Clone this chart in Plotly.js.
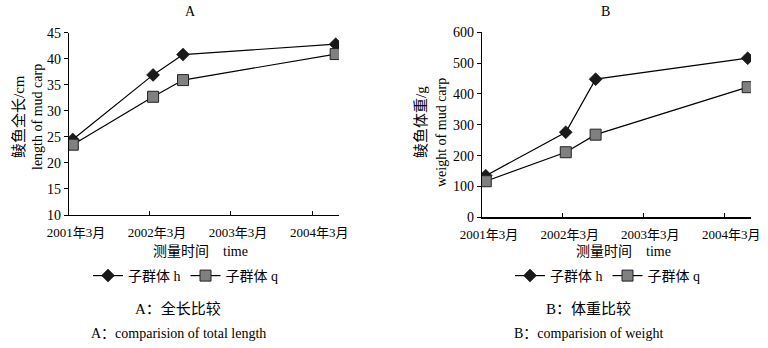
<!DOCTYPE html>
<html>
<head>
<meta charset="utf-8">
<script src="https://cdn.plot.ly/plotly-3.0.1.min.js"></script>
<style>html,body{margin:0;padding:0;background:#fff;}#chart{width:768px;height:348px;}</style>
</head>
<body>
<div id="chart"></div>
<script>
// Data
const dates = ['2001-03-18', '2002-03-15', '2002-07-28', '2004-06-15'];
const tickDates = ['2001-03-01', '2002-03-01', '2003-03-01', '2004-03-01'];
const tickLabels = ['2001年3月', '2002年3月', '2003年3月', '2004年3月'];
const lengthH = [24.5, 36.9, 40.8, 42.8];
const lengthQ = [23.5, 32.7, 35.9, 40.9];
const weightH = [135, 276, 448, 516];
const weightQ = [117, 211, 268, 422];
const seriesNames = ['子群体 h', '子群体 q'];

const W = 768, H = 348;
const px = v => v / W;
const py = v => 1 - v / H;
const FONT = '"Liberation Serif", "Times New Roman", "Noto Sans CJK SC", serif';

const hStyle = {color: '#000', width: 1.2};
const hMarker = {symbol: 'diamond', size: 10, color: '#1a1a1a', line: {color: '#000', width: 0.5}};
const qMarker = {symbol: 'square', size: 11, color: '#808080', line: {color: '#222', width: 1}};

const traces = [
  {x: dates, y: lengthH, name: seriesNames[0], mode: 'lines+markers', line: hStyle, marker: hMarker, xaxis: 'x', yaxis: 'y', legend: 'legend'},
  {x: dates, y: lengthQ, name: seriesNames[1], mode: 'lines+markers', line: hStyle, marker: qMarker, xaxis: 'x', yaxis: 'y', legend: 'legend'},
  {x: dates, y: weightH, name: seriesNames[0], mode: 'lines+markers', line: hStyle, marker: hMarker, xaxis: 'x2', yaxis: 'y2', legend: 'legend2'},
  {x: dates, y: weightQ, name: seriesNames[1], mode: 'lines+markers', line: hStyle, marker: qMarker, xaxis: 'x2', yaxis: 'y2', legend: 'legend2'}
];

const xCommon = {
  type: 'date', range: ['2001-03-01', '2004-06-30'],
  tickmode: 'array', tickvals: tickDates, ticktext: tickLabels,
  ticks: 'inside', ticklen: 4, tickcolor: '#000', tickwidth: 1,
  showline: true, linecolor: '#000', linewidth: 1.2,
  showgrid: false, zeroline: false, ticklabelshift: 7, ticklabelstandoff: 5,
  tickfont: {family: FONT, size: 13, color: '#000'}
};
const yCommon = {
  ticks: 'outside', ticklen: 4, tickcolor: '#000', tickwidth: 1,
  showline: true, linecolor: '#000', linewidth: 1.2,
  showgrid: false, zeroline: false,
  tickfont: {family: FONT, size: 14, color: '#000'}
};

const legendCommon = {
  orientation: 'h', font: {family: FONT, size: 14, color: '#000'},
  itemwidth: 30, tracegroupgap: 0, bgcolor: 'rgba(0,0,0,0)',
  xanchor: 'left', yanchor: 'middle', itemclick: false
};

function ann(text, x, y, size, extra) {
  return Object.assign({text: text, x: px(x), y: py(y), xref: 'paper', yref: 'paper',
    showarrow: false, xanchor: 'center', yanchor: 'middle',
    font: {family: FONT, size: size, color: '#000'}}, extra || {});
}

const layout = {
  width: W, height: H,
  margin: {l: 0, r: 0, t: 0, b: 0},
  paper_bgcolor: '#fff', plot_bgcolor: '#fff',
  showlegend: true,
  xaxis: Object.assign({}, xCommon, {domain: [px(69), px(339)], anchor: 'y'}),
  yaxis: Object.assign({}, yCommon, {domain: [py(215), py(32.7)], range: [10, 45], dtick: 5, anchor: 'x'}),
  xaxis2: Object.assign({}, xCommon, {domain: [px(482), px(751)], anchor: 'y2'}),
  yaxis2: Object.assign({}, yCommon, {domain: [py(217.3), py(32.3)], range: [0, 600], dtick: 100, anchor: 'x2'}),
  legend: Object.assign({}, legendCommon, {x: px(88), y: py(276)}),
  legend2: Object.assign({}, legendCommon, {x: px(510), y: py(276)}),
  annotations: [
    ann('A', 190, 11, 14),
    ann('B', 605, 11, 14),
    ann('鲮鱼全长/cm', 18, 117, 15, {textangle: -90}),
    ann('length of mud carp', 37, 117, 14, {textangle: -90}),
    ann('鲮鱼体重/g', 420, 122, 15, {textangle: -90}),
    ann('weight of mud carp', 441, 133, 14, {textangle: -90}),
    ann('测量时间    time', 200, 251, 14),
    ann('测量时间    time', 623, 251, 14),
    ann('A：全长比较', 178, 308, 15),
    ann('A：comparision of total length', 178, 333, 14),
    ann('B：体重比较', 588, 308, 15),
    ann('B：comparision of weight', 588, 333, 14)
  ]
};

Plotly.newPlot('chart', traces, layout, {staticPlot: true, displayModeBar: false});
</script>
</body>
</html>
